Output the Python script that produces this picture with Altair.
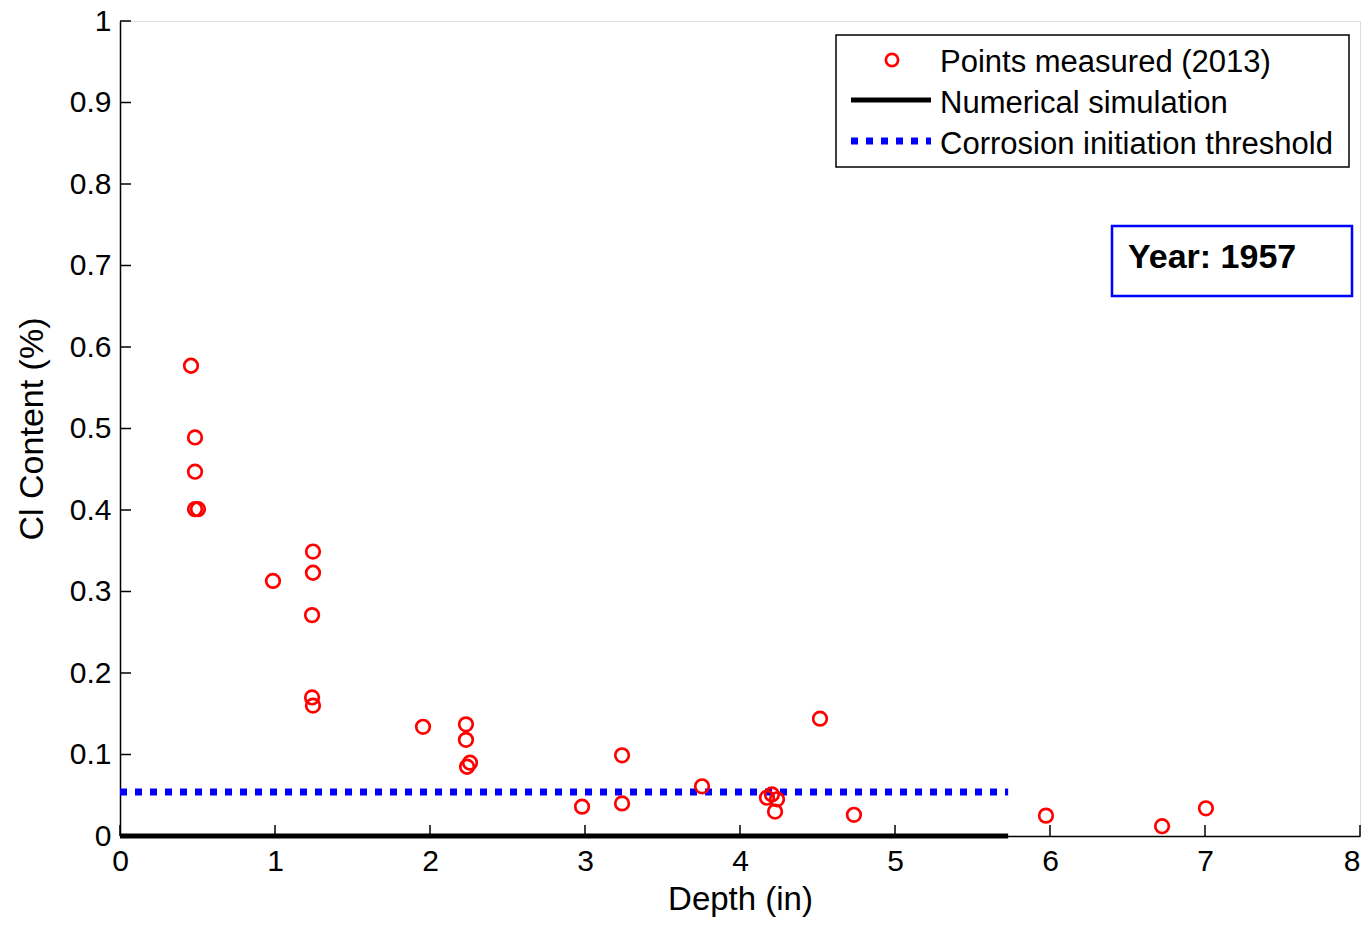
import altair as alt
import pandas as pd

# ---- data ----
depth = [0.458, 0.484, 0.484, 0.484, 0.503, 0.987, 1.245, 1.245, 1.239, 1.239, 1.245,
         1.955, 2.232, 2.232, 2.239, 2.258, 2.981, 3.239, 3.239, 3.755, 4.174, 4.206,
         4.239, 4.226, 4.516, 4.735, 5.974, 6.723, 7.006]
cl = [0.577, 0.489, 0.447, 0.401, 0.401, 0.313, 0.349, 0.323, 0.271, 0.170, 0.160,
      0.134, 0.137, 0.118, 0.085, 0.090, 0.036, 0.099, 0.040, 0.061, 0.047, 0.051,
      0.045, 0.030, 0.144, 0.026, 0.025, 0.012, 0.034]
sim_depth = [0.0, 5.73]
sim_cl = [0.0, 0.0]
thr_depth = [0.0, 5.73]
thr_cl = [0.054, 0.054]
x_ticks = [0, 1, 2, 3, 4, 5, 6, 7, 8]
y_ticks = [0, 0.1, 0.2, 0.3, 0.4, 0.5, 0.6, 0.7, 0.8, 0.9, 1.0]
legend_labels = ["Points measured (2013)", "Numerical simulation", "Corrosion initiation threshold"]
year_label = "Year: 1957"

FONT = "Liberation Sans"
W, H = 1240, 815

pts = pd.DataFrame({"depth": depth, "cl": cl})
sim = pd.DataFrame({"depth": sim_depth, "cl": sim_cl})
thr = pd.DataFrame({"depth": thr_depth, "cl": thr_cl})

xscale = alt.Scale(domain=[0, 8], nice=False, zero=False)
yscale = alt.Scale(domain=[0, 1], nice=False, zero=False)

xaxis = alt.Axis(title="Depth (in)", values=x_ticks, format="~g", ticks=False, grid=False,
                 labelFontSize=30, labelFont=FONT, labelColor="black", labelPadding=10,
                 labelAlign={"condition": {"test": "datum.value >= 8", "value": "right"},
                             "value": "center"},
                 titleFontSize=33, titleFont=FONT, titleFontWeight="normal", titleColor="black",
                 titlePadding=7, domainColor="black", domainWidth=1.5, labelFlush=False)
yaxis = alt.Axis(title="Cl Content (%)", values=y_ticks, format="~g", ticks=False, grid=False,
                 labelFontSize=30, labelFont=FONT, labelColor="black", labelPadding=9,
                 titleFontSize=34, titleFont=FONT, titleFontWeight="normal", titleColor="black",
                 titlePadding=20, domainColor="black", domainWidth=1.5, labelFlush=False)

threshold = alt.Chart(thr).mark_line(color="#0000ff", strokeWidth=7, strokeDash=[7, 8],
                                     strokeCap="butt").encode(
    x=alt.X("depth:Q", scale=xscale, axis=xaxis),
    y=alt.Y("cl:Q", scale=yscale, axis=yaxis),
)
simulation = alt.Chart(sim).mark_line(color="black", strokeWidth=5).encode(
    x=alt.X("depth:Q", scale=xscale),
    y=alt.Y("cl:Q", scale=yscale),
)
points = alt.Chart(pts).mark_point(shape="circle", filled=False, color="#ff0000",
                                   size=185, strokeWidth=2.7, opacity=1).encode(
    x=alt.X("depth:Q", scale=xscale),
    y=alt.Y("cl:Q", scale=yscale),
)

# inward ticks (MATLAB style)
xt = alt.Chart(pd.DataFrame({"depth": x_ticks})).mark_rule(color="black", strokeWidth=1.5).encode(
    x=alt.X("depth:Q", scale=xscale), y=alt.value(H), y2=alt.value(H - 11))
yt = alt.Chart(pd.DataFrame({"cl": y_ticks})).mark_rule(color="black", strokeWidth=1.5).encode(
    y=alt.Y("cl:Q", scale=yscale), x=alt.value(0), x2=alt.value(11))

one = alt.Data(values=[{"a": 1}])

# legend (plot-area pixel coordinates)
leg_box = alt.Chart(one).mark_rect(fill="white", stroke="black", strokeWidth=1.5).encode(
    x=alt.value(716), x2=alt.value(1229), y=alt.value(14), y2=alt.value(146))
leg_circle = alt.Chart(one).mark_point(shape="circle", filled=False, color="#ff0000",
                                       size=150, strokeWidth=2.7, opacity=1).encode(
    x=alt.value(772), y=alt.value(39))
leg_line = alt.Chart(one).mark_rule(color="black", strokeWidth=5).encode(
    x=alt.value(731), x2=alt.value(811), y=alt.value(79))
leg_dot = alt.Chart(one).mark_rule(color="#0000ff", strokeWidth=7, strokeDash=[7, 8],
                                   strokeCap="butt").encode(
    x=alt.value(731), x2=alt.value(811), y=alt.value(120))
leg_texts = [
    alt.Chart(one).mark_text(align="left", baseline="middle", font=FONT, fontSize=31,
                             color="black", text=lab).encode(x=alt.value(820), y=alt.value(yy))
    for lab, yy in zip(legend_labels, [42, 83, 124])
]

# year box
year_box = alt.Chart(one).mark_rect(fill="white", stroke="#0000ff", strokeWidth=2.5).encode(
    x=alt.value(992), x2=alt.value(1232), y=alt.value(205), y2=alt.value(275))
year_text = alt.Chart(one).mark_text(align="left", baseline="middle", font=FONT,
                                     fontSize=34, fontWeight="bold", color="black",
                                     text=year_label).encode(
    x=alt.value(1008), y=alt.value(237))

chart = alt.layer(
    threshold, simulation, points, xt, yt,
    leg_box, leg_circle, leg_line, leg_dot, *leg_texts,
    year_box, year_text,
).properties(
    width=W, height=H,
    autosize=alt.AutoSizeParams(type="none"),
    padding={"left": 112, "top": 13, "right": 3, "bottom": 83},
).configure_view(strokeWidth=0, stroke="transparent").configure(background="white")

chart.save("out.html", embed_options={"renderer": "svg", "actions": False})
